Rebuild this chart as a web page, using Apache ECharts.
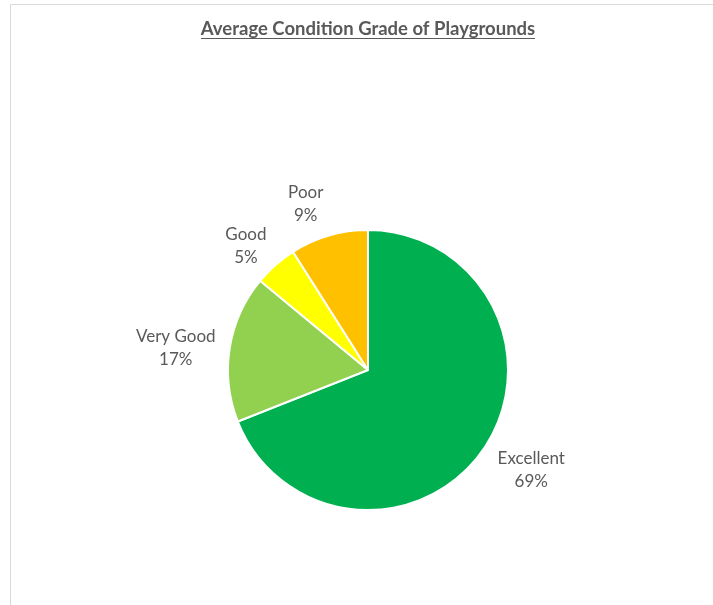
<!DOCTYPE html>
<html>
<head>
<meta charset="utf-8">
<script src="https://cdn.jsdelivr.net/npm/echarts@6/dist/echarts.min.js"></script>
<style>html,body{margin:0;padding:0;background:#fff;}#c{width:713px;height:605px;}</style>
</head>
<body>
<div id="c"></div>
<script>
const titleText = 'Average Condition Grade of Playgrounds';
const categories = ['Excellent', 'Very Good', 'Good', 'Poor'];
const values = [69, 17, 5, 9];
const colors = ['#00B050', '#92D050', '#FFFF00', '#FFC000'];
// label placement tuning (label line lengths, line hidden)
const labelLen1 = [38, 1, 25, 33];
const labelLen2 = [11, 48, 8, 9];

const chart = echarts.init(document.getElementById('c'));
const FONT = 'Lato';
chart.setOption({
  animation: false,
  backgroundColor: '#ffffff',
  graphic: [
    { type: 'rect', shape: { x: 10.5, y: 4.5, width: 900, height: 800 }, style: { fill: 'none', stroke: '#d9d9d9', lineWidth: 1 }, silent: true, z: -1 },
    { type: 'text', x: 368, y: 29, style: { text: titleText, align: 'center', verticalAlign: 'middle', font: 'bold 18.5px Lato', fill: '#595959' }, silent: true },
    { type: 'line', shape: { x1: 201, y1: 38.5, x2: 535, y2: 38.5 }, style: { stroke: '#595959', lineWidth: 1 }, silent: true }
  ],
  series: [{
    type: 'pie',
    center: [368, 370],
    radius: 140,
    startAngle: 90,
    clockwise: true,
    avoidLabelOverlap: false,
    itemStyle: { borderColor: '#ffffff', borderWidth: 2 },
    label: {
      show: true,
      position: 'outside',
      formatter: p => p.name + '\n' + p.value + '%',
      fontFamily: FONT,
      fontSize: 17,
      lineHeight: 23,
      color: '#595959',
      align: 'center'
    },
    labelLine: { show: false },
    labelLayout: { align: 'center', verticalAlign: 'middle' },
    data: categories.map((c, i) => ({
      name: c, value: values[i],
      itemStyle: { color: colors[i] },
      labelLine: { show: false, length: labelLen1[i], length2: labelLen2[i] }
    }))
  }]
});
</script>
</body>
</html>
